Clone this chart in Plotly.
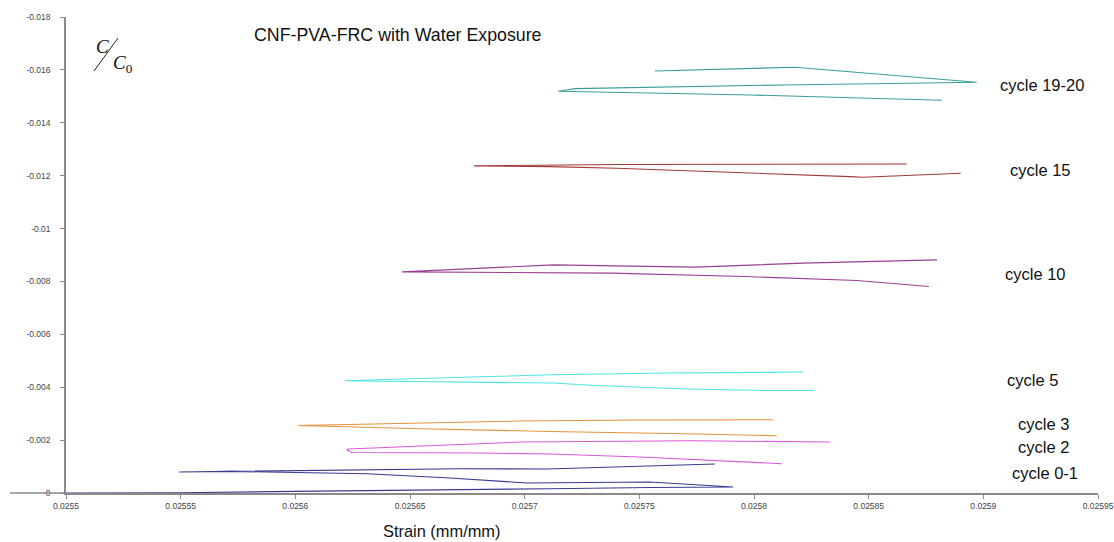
import plotly.graph_objects as go

# ---- data (strain, C/C0) ----
c01_x = [0.0255, 0.02555, 0.025599, 0.0256456, 0.0256718, 0.025711, 0.0257547, 0.0257909,
         0.0257547, 0.025701, 0.0256674, 0.0256313, 0.0255715, 0.0255493,
         0.0256282, 0.0256718, 0.0257097, 0.025783]
c01_y = [0.0, -0.0000113, -0.0000605, -0.000113, -0.000144, -0.000162, -0.000208, -0.000227,
         -0.000416, -0.000378, -0.000567, -0.000729, -0.000816, -0.000794,
         -0.000892, -0.000918, -0.000907, -0.001096]

c2_x = [0.0258121, 0.0257503, 0.025711, 0.0256805, 0.0256246, 0.0256224, 0.025623,
        0.025698, 0.0257721, 0.0258331]
c2_y = [-0.001107, -0.001360, -0.001474, -0.001512, -0.001534, -0.001636, -0.001663,
        -0.001927, -0.001976, -0.001927]

c3_x = [0.0258099, 0.0257765, 0.025711, 0.0256544, 0.0256013, 0.0256544, 0.025698,
        0.0257503, 0.0258083]
c3_y = [-0.002165, -0.002230, -0.002328, -0.002430, -0.002555, -0.002638, -0.002721,
        -0.002759, -0.002770]

c5_x = [0.0258262, 0.0258048, 0.0257712, 0.0257307, 0.0257124, 0.0256369, 0.0256217,
        0.0256805, 0.0257124, 0.0257625, 0.0258214]
c5_y = [-0.003877, -0.003877, -0.003930, -0.004066, -0.004157, -0.004217, -0.004244,
        -0.004395, -0.004471, -0.004535, -0.004573]

c10_x = [0.0258763, 0.0258449, 0.0257961, 0.0257377, 0.0256465, 0.0257124, 0.0257743,
         0.0258214, 0.0258798]
c10_y = [-0.007807, -0.008034, -0.008185, -0.008314, -0.008363, -0.008627, -0.008541,
         -0.008692, -0.008816]

c15_x = [0.0258901, 0.0258475, 0.0258419, 0.0257401, 0.025711, 0.0256779, 0.0257416,
         0.0257983, 0.0258666]
c15_y = [-0.012093, -0.011942, -0.011964, -0.012282, -0.012342, -0.012369, -0.012425,
         -0.012425, -0.012444]

c1920_x = [0.0257568, 0.0258179, 0.0258971, 0.0258128, 0.025722, 0.0257147, 0.0257983,
           0.0258819]
c1920_y = [-0.015959, -0.016099, -0.015532, -0.015430, -0.015290, -0.015192, -0.015052,
           -0.014851]

series_names = ["cycle 0-1", "cycle 2", "cycle 3", "cycle 5", "cycle 10", "cycle 15", "cycle 19-20"]
series_x = [c01_x, c2_x, c3_x, c5_x, c10_x, c15_x, c1920_x]
series_y = [c01_y, c2_y, c3_y, c5_y, c10_y, c15_y, c1920_y]
series_colors = ["#3a3a92", "#d85ad8", "#e8903c", "#4ee4e4", "#9a3f96", "#a03838", "#3a9c9a"]

x_ticks = [0.0255, 0.02555, 0.0256, 0.02565, 0.0257, 0.02575, 0.0258, 0.02585, 0.0259, 0.02595]
x_ticktext = ["0.0255", "0.02555", "0.0256", "0.02565", "0.0257", "0.02575", "0.0258",
              "0.02585", "0.0259", "0.02595"]
y_ticks = [-0.018, -0.016, -0.014, -0.012, -0.01, -0.008, -0.006, -0.004, -0.002, 0]
y_ticktext = ["-0.018", "-0.016", "-0.014", "-0.012", "-0.01", "-0.008", "-0.006",
              "-0.004", "-0.002", "0"]

# label pixel positions (left x, center y)
label_pos = {"cycle 19-20": (998, 85), "cycle 15": (1008, 170), "cycle 10": (1003, 274),
             "cycle 5": (1005, 380), "cycle 3": (1016, 424), "cycle 2": (1016, 447),
             "cycle 0-1": (1010, 473)}

W, H = 1114, 542
L, R, T, B = 66, 16, 17, 49
PW, PH = W - L - R, H - T - B


def px(xp):
    return (xp - L) / PW


def py(yp):
    return (H - B - yp) / PH


fig = go.Figure()
for name, xs, ys, col in zip(series_names, series_x, series_y, series_colors):
    fig.add_trace(go.Scatter(x=xs, y=ys, mode="lines", name=name,
                             line=dict(color=col, width=1.1), showlegend=False))

annotations = []
for name in series_names:
    lx, ly = label_pos[name]
    annotations.append(dict(x=px(lx), y=py(ly), xref="paper", yref="paper", text=name,
                            showarrow=False, xanchor="left", yanchor="middle",
                            font=dict(family="Liberation Sans, Arial", size=16.5, color="#111")))

annotations.append(dict(x=px(398), y=py(35), xref="paper", yref="paper",
                        text="CNF-PVA-FRC with Water Exposure", showarrow=False,
                        xanchor="center", yanchor="middle",
                        font=dict(family="Liberation Sans, Arial", size=17.8, color="#111")))
annotations.append(dict(x=px(441), y=py(531), xref="paper", yref="paper",
                        text="Strain (mm/mm)", showarrow=False,
                        xanchor="center", yanchor="middle",
                        font=dict(family="Liberation Sans, Arial", size=16.4, color="#111")))
# C / C0 label
annotations.append(dict(x=px(102), y=py(46), xref="paper", yref="paper", text="<i>C</i>",
                        showarrow=False, xanchor="center", yanchor="middle",
                        font=dict(family="Liberation Serif, Times New Roman", size=19, color="#111")))
annotations.append(dict(x=px(111), y=py(64), xref="paper", yref="paper",
                        text="<i>C</i><sub>0</sub>",
                        showarrow=False, xanchor="left", yanchor="middle",
                        font=dict(family="Liberation Serif, Times New Roman", size=19, color="#111")))

shapes = [
    dict(type="line", xref="paper", yref="paper", x0=px(94), y0=py(71), x1=px(118), y1=py(38),
         line=dict(color="#222", width=1)),
    dict(type="line", xref="paper", yref="paper", x0=px(10), y0=0, x1=0, y1=0,
         line=dict(color="#8a8a8a", width=1.5)),
]

fig.update_layout(
    width=W, height=H, autosize=False,
    margin=dict(l=L, r=R, t=T, b=B, pad=0),
    paper_bgcolor="white", plot_bgcolor="white",
    showlegend=False,
    annotations=annotations, shapes=shapes,
    xaxis=dict(range=[0.0255, 0.02595], tickvals=x_ticks, ticktext=x_ticktext,
               automargin=False,
               showgrid=False, zeroline=False, showline=True, linecolor="#8a8a8a",
               linewidth=1.5, ticks="outside", ticklen=4, tickcolor="#8a8a8a",
               tickfont=dict(family="Liberation Sans, Arial", size=8.5, color="#444")),
    yaxis=dict(range=[0, -0.018], tickvals=y_ticks, ticktext=y_ticktext,
               automargin=False,
               showgrid=False, zeroline=False, showline=True, linecolor="#8a8a8a",
               linewidth=1.5, ticks="outside", ticklen=4, tickcolor="#8a8a8a",
               ticklabelstandoff=8,
               tickfont=dict(family="Liberation Sans, Arial", size=8.5, color="#444")),
)

fig.write_html("out.html")
